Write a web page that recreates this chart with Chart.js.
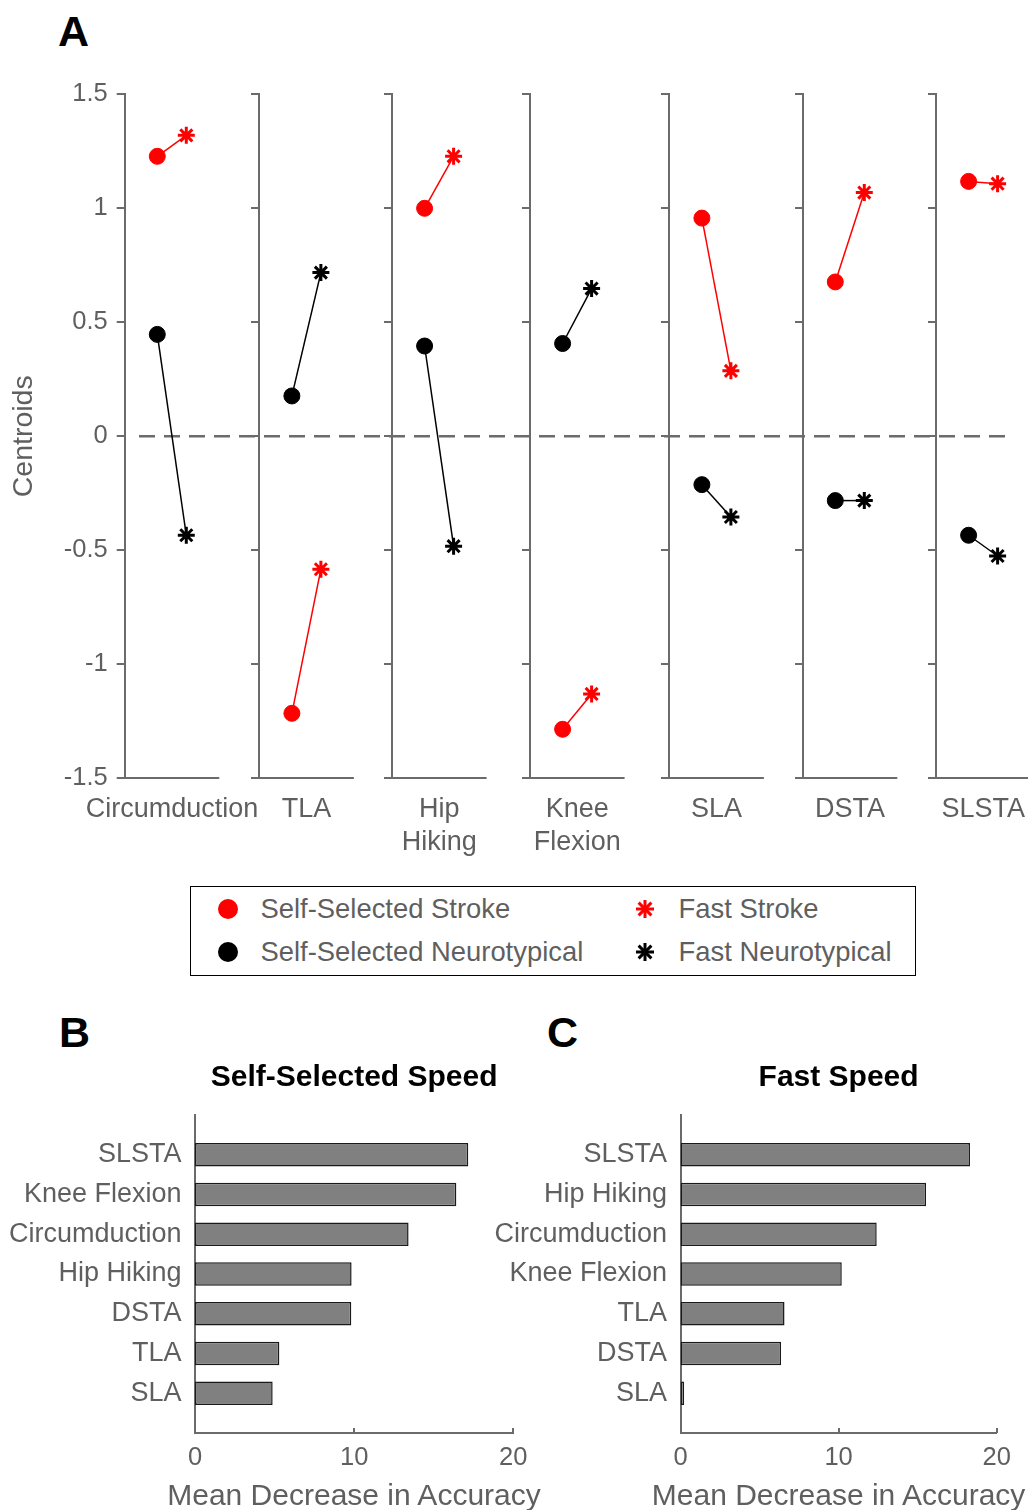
<!DOCTYPE html>
<html><head><meta charset="utf-8">
<script src="https://cdn.jsdelivr.net/npm/chart.js@4.4.1/dist/chart.umd.min.js"></script>
<style>
html,body{margin:0;padding:0;background:#fff;width:1028px;height:1510px;overflow:hidden;position:relative;font-family:'Liberation Sans',Arial,Helvetica,sans-serif;}
canvas{position:absolute;}
.plabel{position:absolute;font-weight:bold;font-size:43px;line-height:43px;color:#000;}
#legend{position:absolute;left:190px;top:886px;width:726px;height:90px;box-sizing:border-box;border:1.5px solid #000;background:#fff;}
.li{position:absolute;font-size:27.4px;color:#5f5f5f;white-space:nowrap;line-height:27px;}
.mk{position:absolute;width:24px;height:24px;}
.xtitle{position:absolute;width:600px;text-align:center;font-size:30px;line-height:30px;color:#5f5f5f;white-space:nowrap;}
</style></head>
<body>
<div class="plabel" style="left:58px;top:10px">A</div>
<div class="plabel" style="left:59px;top:1011px">B</div>
<div class="plabel" style="left:547px;top:1011px">C</div>
<canvas id="cA" width="1028" height="870" style="left:0;top:0"></canvas>
<canvas id="cB" width="560" height="460" style="left:0;top:1050px"></canvas>
<canvas id="cC" width="548" height="460" style="left:480px;top:1050px"></canvas>
<div class="xtitle" id="xtB" style="left:54px;top:1480px"></div>
<div class="xtitle" id="xtC" style="left:538.6px;top:1480px"></div>
<div id="legend">
  <svg class="mk" style="left:24.5px;top:9.5px" viewBox="0 0 24 24"><circle cx="12" cy="12" r="10" fill="#ff0000"/></svg>
  <div class="li" style="left:69.5px;top:8px">Self-Selected Stroke</div>
  <svg class="mk" style="left:24.5px;top:52.5px" viewBox="0 0 24 24"><circle cx="12" cy="12" r="10" fill="#000"/></svg>
  <div class="li" style="left:69.5px;top:51px">Self-Selected Neurotypical</div>
  <svg class="mk" style="left:441.5px;top:9.5px" viewBox="0 0 24 24"><g stroke="#ff0000" stroke-width="3"><line x1="12" y1="3" x2="12" y2="21"/><line x1="3" y1="12" x2="21" y2="12"/><line x1="5.6" y1="5.6" x2="18.4" y2="18.4"/><line x1="5.6" y1="18.4" x2="18.4" y2="5.6"/></g></svg>
  <div class="li" style="left:487.5px;top:8px">Fast Stroke</div>
  <svg class="mk" style="left:441.5px;top:52.5px" viewBox="0 0 24 24"><g stroke="#000" stroke-width="3"><line x1="12" y1="3" x2="12" y2="21"/><line x1="3" y1="12" x2="21" y2="12"/><line x1="5.6" y1="5.6" x2="18.4" y2="18.4"/><line x1="5.6" y1="18.4" x2="18.4" y2="5.6"/></g></svg>
  <div class="li" style="left:487.5px;top:51px">Fast Neurotypical</div>
</div>
<script>
// ---------------- DATA ----------------
// Panel A: centroids per gait feature
const gaitFeatures = ['Circumduction', 'TLA', 'Hip Hiking', 'Knee Flexion', 'SLA', 'DSTA', 'SLSTA'];
const featureLabelLines = [['Circumduction'], ['TLA'], ['Hip', 'Hiking'], ['Knee', 'Flexion'], ['SLA'], ['DSTA'], ['SLSTA']];
const strokeSelfSelected = [1.228, -1.215, 1.00, -1.285, 0.957, 0.677, 1.118];
const strokeFast         = [1.32, -0.583, 1.228, -1.13, 0.287, 1.069, 1.108];
const neuroSelfSelected  = [0.447, 0.177, 0.396, 0.407, -0.212, -0.282, -0.434];
const neuroFast          = [-0.434, 0.718, -0.482, 0.648, -0.354, -0.282, -0.525];
const centroidTicks      = [-1.5, -1, -0.5, 0, 0.5, 1, 1.5];
const centroidTickLabels = ['-1.5', '-1', '-0.5', '0', '0.5', '1', '1.5'];

// Panel B: self-selected speed importance
const selfSelCategories = ['SLSTA', 'Knee Flexion', 'Circumduction', 'Hip Hiking', 'DSTA', 'TLA', 'SLA'];
const selfSelValues     = [17.17, 16.42, 13.42, 9.84, 9.82, 5.30, 4.88];
// Panel C: fast speed importance
const fastCategories = ['SLSTA', 'Hip Hiking', 'Circumduction', 'Knee Flexion', 'TLA', 'DSTA', 'SLA'];
const fastValues     = [18.31, 15.53, 12.41, 10.20, 6.58, 6.36, 0.23];
const accuracyTicks      = [0, 10, 20];
const accuracyTickLabels = ['0', '10', '20'];
const accuracyTitle = 'Mean Decrease in Accuracy';

// ---------------- LAYOUT / STYLE ----------------
const AXIS = '#6b6b6b';
const TEXT = '#5f5f5f';
const FONT = "'Liberation Sans', Arial, Helvetica, sans-serif";
Chart.defaults.font.family = FONT;
Chart.defaults.color = TEXT;

// panel A x-scale in "panel units"
const panelAxisX = [0, 4.641, 9.217, 13.976, 18.779, 23.379, 27.976];
const SELF_OFF = 1.124, FAST_OFF = 2.124, PANEL_W = 3.262, X_MAX = 31.148;
const DASH_FROM = 0.493, DASH_TO = 30.424;

const common = { animation: false, responsive: false, devicePixelRatio: 1, events: [] };
const noEdgePadding = s => { s.paddingLeft = 0; s.paddingRight = 0; };

// ---------------- PANEL A ----------------
const groups = [
  { self: strokeSelfSelected, fast: strokeFast, color: '#ff0000' },
  { self: neuroSelfSelected, fast: neuroFast, color: '#000000' }
];
const datasetsA = [];
gaitFeatures.forEach((f, k) => {
  groups.forEach(g => {
    datasetsA.push({
      label: f,
      data: [{ x: panelAxisX[k] + SELF_OFF, y: g.self[k] }, { x: panelAxisX[k] + FAST_OFF, y: g.fast[k] }],
      borderColor: g.color, borderWidth: 1.5,
      pointStyle: ['circle', 'star'],
      pointRadius: [8, 8.5],
      pointBackgroundColor: g.color, pointBorderColor: g.color,
      pointBorderWidth: [1, 3],
      order: 0, clip: false
    });
  });
});
datasetsA.push({
  label: 'zero',
  data: [{ x: DASH_FROM, y: 0 }, { x: DASH_TO, y: 0 }],
  borderColor: AXIS, borderWidth: 2.5, borderDash: [16, 9], pointRadius: 0, order: 1
});

const panelAxes = {
  id: 'panelAxes',
  beforeDatasetsDraw(chart) {
    const { ctx, scales: { x, y }, chartArea: { top, bottom } } = chart;
    ctx.save();
    ctx.strokeStyle = AXIS; ctx.lineWidth = 2; ctx.lineCap = 'butt';
    panelAxisX.forEach((p, k) => {
      const xl = Math.round(x.getPixelForValue(p));
      const xr = x.getPixelForValue(p + PANEL_W);
      const yb = Math.round(y.getPixelForValue(centroidTicks[0]));
      if (k > 0) {
        ctx.beginPath(); ctx.moveTo(xl, Math.round(top) - 1); ctx.lineTo(xl, Math.round(bottom) + 1); ctx.stroke();
        centroidTicks.forEach(v => {
          const py = Math.round(y.getPixelForValue(v));
          ctx.beginPath(); ctx.moveTo(xl - 8, py); ctx.lineTo(xl, py); ctx.stroke();
        });
      }
      ctx.beginPath(); ctx.moveTo(xl - 1, yb); ctx.lineTo(xr, yb); ctx.stroke();
    });
    ctx.restore();
  }
};

new Chart(document.getElementById('cA'), {
  type: 'line',
  data: { datasets: datasetsA },
  plugins: [panelAxes],
  options: Object.assign({}, common, {
    layout: { autoPadding: false, padding: { top: 94.3, left: 0, right: 0, bottom: 0 } },
    plugins: { legend: { display: false }, tooltip: { enabled: false }, title: { display: false } },
    scales: {
      x: {
        type: 'linear', min: 0, max: X_MAX,
        afterFit: s => { s.height = 870 - 778.3; noEdgePadding(s); },
        afterBuildTicks: s => { s.ticks = panelAxisX.map(p => ({ value: p + PANEL_W / 2 })); },
        grid: { display: false, drawTicks: true, tickLength: 15 },
        border: { display: false },
        ticks: {
          autoSkip: false, maxRotation: 0, minRotation: 0, padding: 0, color: TEXT,
          font: { size: 27, lineHeight: 1.22 },
          callback: (v, i) => featureLabelLines[i]
        }
      },
      y: {
        type: 'linear', min: -1.5, max: 1.5,
        afterFit: s => { s.width = 124.7; },
        afterBuildTicks: s => { s.ticks = centroidTicks.map(v => ({ value: v })); },
        grid: { display: true, drawOnChartArea: false, drawTicks: true, tickLength: 8, color: AXIS, lineWidth: 2 },
        border: { display: true, color: AXIS, width: 2 },
        ticks: { padding: 9, color: TEXT, font: { size: 25.5 }, callback: (v, i) => centroidTickLabels[i] },
        title: { display: true, text: 'Centroids', color: TEXT, font: { size: 28.5 }, padding: { top: 7, bottom: 0 } }
      }
    }
  })
});

// ---------------- PANELS B & C ----------------
const inwardTicks = {
  id: 'inwardTicks',
  afterDraw(chart) {
    const { ctx, scales: { x }, chartArea } = chart;
    ctx.save(); ctx.strokeStyle = AXIS; ctx.lineWidth = 2;
    x.ticks.forEach(t => {
      const px = Math.round(x.getPixelForValue(t.value));
      ctx.beginPath(); ctx.moveTo(px, chartArea.bottom); ctx.lineTo(px, chartArea.bottom - 5); ctx.stroke();
    });
    ctx.restore();
  }
};

function barChart(id, title, cats, vals, yWidth, padRight) {
  const labels = [''].concat(cats, ['']);
  const data = [null].concat(vals, [null]);
  new Chart(document.getElementById(id), {
    type: 'bar',
    data: {
      labels,
      datasets: [{
        data, backgroundColor: '#808080', borderColor: '#1a1a1a', borderWidth: 1.5,
        borderSkipped: false, barPercentage: 0.59, categoryPercentage: 1
      }]
    },
    plugins: [inwardTicks],
    options: Object.assign({}, common, {
      indexAxis: 'y',
      layout: { autoPadding: false, padding: { top: 0, left: 0, right: padRight, bottom: 0 } },
      plugins: {
        legend: { display: false }, tooltip: { enabled: false },
        title: {
          display: true, text: title, color: '#000', fullSize: false,
          font: { size: 30, weight: 'bold' }, padding: { top: 10, bottom: 19 }
        }
      },
      scales: {
        y: {
          type: 'category', offset: false,
          afterFit: s => { s.width = yWidth; },
          grid: { display: false, drawTicks: false, tickLength: 0 },
          border: { display: true, color: AXIS, width: 2 },
          ticks: { autoSkip: false, padding: 13.5, color: TEXT, font: { size: 27 } }
        },
        x: {
          type: 'linear', min: 0, max: 20,
          afterFit: s => { s.height = 77; noEdgePadding(s); },
          afterBuildTicks: s => { s.ticks = accuracyTicks.map(v => ({ value: v })); },
          grid: { display: false, drawTicks: false, tickLength: 0 },
          border: { display: true, color: AXIS, width: 2 },
          ticks: { padding: 10, color: TEXT, font: { size: 25.5 }, maxRotation: 0, callback: (v, i) => accuracyTickLabels[i] }
        }
      }
    })
  });
}
barChart('cB', 'Self-Selected Speed', selfSelCategories, selfSelValues, 195, 560 - 513.3);
barChart('cC', 'Fast Speed', fastCategories, fastValues, 680.5 - 480, 548 - (996.7 - 480));
document.getElementById('xtB').textContent = accuracyTitle;
document.getElementById('xtC').textContent = accuracyTitle;
</script>
</body></html>
